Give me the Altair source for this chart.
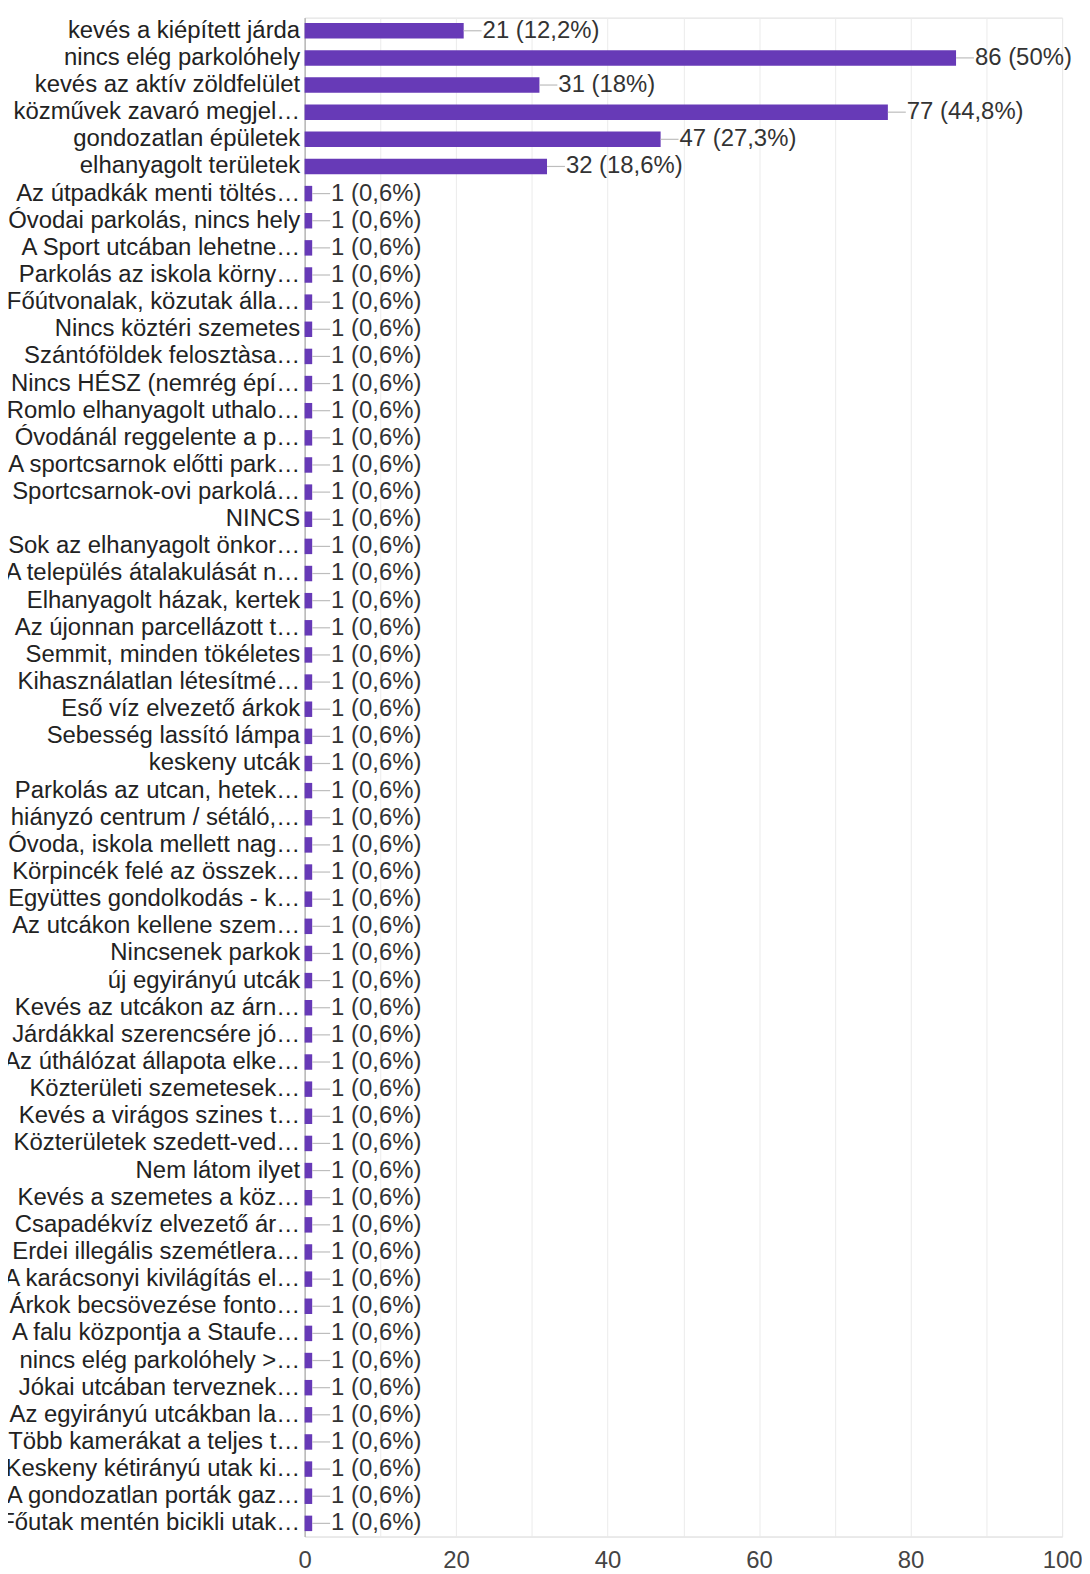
import altair as alt
import pandas as pd

labels = [
    "kevés a kiépített járda",
    "nincs elég parkolóhely",
    "kevés az aktív zöldfelület",
    "közművek zavaró megjel…",
    "gondozatlan épületek",
    "elhanyagolt területek",
    "Az útpadkák menti töltés…",
    "Óvodai parkolás, nincs hely",
    "A Sport utcában lehetne…",
    "Parkolás az iskola körny…",
    "Főútvonalak, közutak álla…",
    "Nincs köztéri szemetes",
    "Szántóföldek felosztàsa…",
    "Nincs HÉSZ (nemrég épí…",
    "Romlo elhanyagolt uthalo…",
    "Óvodánál reggelente a p…",
    "A sportcsarnok előtti park…",
    "Sportcsarnok-ovi parkolá…",
    "NINCS",
    "Sok az elhanyagolt önkor…",
    "A település átalakulását n…",
    "Elhanyagolt házak, kertek",
    "Az újonnan parcellázott t…",
    "Semmit, minden tökéletes",
    "Kihasználatlan létesítmé…",
    "Eső víz elvezető árkok",
    "Sebesség lassító lámpa",
    "keskeny utcák",
    "Parkolás az utcan, hetek…",
    "hiányzó centrum / sétáló,…",
    "Óvoda, iskola mellett nag…",
    "Körpincék felé az összek…",
    "Együttes gondolkodás - k…",
    "Az utcákon kellene szem…",
    "Nincsenek parkok",
    "új egyirányú utcák",
    "Kevés az utcákon az árn…",
    "Járdákkal szerencsére jó…",
    "Az úthálózat állapota elke…",
    "Közterületi szemetesek…",
    "Kevés a virágos szines t…",
    "Közterületek szedett-ved…",
    "Nem látom ilyet",
    "Kevés a szemetes a köz…",
    "Csapadékvíz elvezető ár…",
    "Erdei illegális szemétlera…",
    "A karácsonyi kivilágítás el…",
    "Árkok becsövezése fonto…",
    "A falu központja a Staufe…",
    "nincs elég parkolóhely >…",
    "Jókai utcában terveznek…",
    "Az egyirányú utcákban la…",
    "Több kamerákat a teljes t…",
    "Keskeny kétirányú utak ki…",
    "A gondozatlan porták gaz…",
    "Főutak mentén bicikli utak…",
]

counts = [21, 86, 31, 77, 47, 32,
          1, 1, 1, 1, 1, 1, 1, 1, 1, 1,
          1, 1, 1, 1, 1, 1, 1, 1, 1, 1,
          1, 1, 1, 1, 1, 1, 1, 1, 1, 1,
          1, 1, 1, 1, 1, 1, 1, 1, 1, 1,
          1, 1, 1, 1, 1, 1, 1, 1, 1, 1]

percents = ["12,2%", "50%", "18%", "44,8%", "27,3%", "18,6%"] + ["0,6%"] * 50

x_ticks = [0, 10, 20, 30, 40, 50, 60, 70, 80, 90, 100]

df = pd.DataFrame({"label": labels, "count": counts, "pct": percents})
df["txt"] = df["count"].astype(str) + " (" + df["pct"] + ")"

FONT = "Liberation Sans"
FS = 24

y_enc = alt.Y(
    "label:N",
    sort=labels,
    scale=alt.Scale(paddingInner=0.43, paddingOuter=0.2),
    axis=alt.Axis(
        title=None, ticks=False, domain=True, domainColor="#9e9e9e",
        labelFontSize=FS, labelColor="#222222", labelLimit=0,
        labelPadding=5, labelFont=FONT, grid=False,
    ),
)

x_enc = alt.X(
    "count:Q",
    scale=alt.Scale(domain=[0, 100], nice=False),
    axis=alt.Axis(
        title=None, values=x_ticks, ticks=False, domain=True,
        domainColor="#e6e6e6", grid=True, gridColor="#ebebeb",
        labelExpr="datum.value % 20 == 0 ? datum.label : ''",
        labelFontSize=FS, labelColor="#444444", labelPadding=12,
        labelFont=FONT, labelFlush=False,
    ),
)

base = alt.Chart(df)

bars = base.mark_bar(color="#673ab7").encode(x=x_enc, y=y_enc)

leaders = base.mark_rule(color="#bdbdbd", strokeWidth=1.2, x2Offset=18).encode(
    x="count:Q", x2="count:Q", y=alt.Y("label:N", sort=labels)
)

texts = base.mark_text(
    align="left", baseline="middle", dx=19, fontSize=FS, font=FONT, color="#333333"
).encode(x="count:Q", y=alt.Y("label:N", sort=labels), text="txt:N")

chart = (
    alt.layer(bars, leaders, texts)
    .properties(
        width=761,
        height=1526,
        autosize=alt.AutoSizeParams(type="none"),
        padding={"left": 298, "top": 6, "right": 20, "bottom": 34},
    )
    .configure_view(stroke=None)
    .configure(font=FONT)
)

chart.save("out.html", embed_options={"renderer": "svg", "actions": False})
